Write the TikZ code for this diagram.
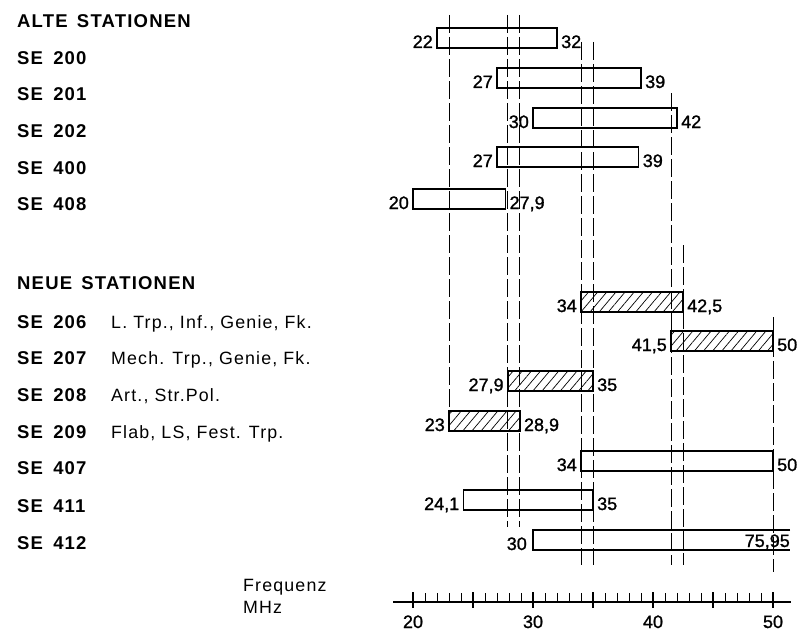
\documentclass[tikz,border=0pt]{standalone}
\usepackage{fontspec}
\setmainfont{Liberation Sans}
\newfontfamily\trackedfont{Liberation Sans}[LetterSpace=6.5]
\newfontfamily\numfont{Liberation Sans}[FakeBold=1.2]
\usetikzlibrary{patterns.meta}
\tikzset{
  barbox/.style={draw, line width=1.5pt},
  hatchbox/.style={barbox, pattern={Lines[angle=50,distance=7pt,line width=0.7pt]}},
  vline/.style={line width=0.7pt, dash pattern=on 18pt off 4pt},
  num/.style={font=\numfont\fontsize{18}{18}\selectfont, inner sep=0pt},
  stn/.style={font=\trackedfont\fontsize{18.5}{18}\selectfont\bfseries, inner sep=0pt, anchor=base west},
  desc/.style={font=\trackedfont\fontsize{17.8}{17}\selectfont, inner sep=0pt, anchor=base west},
  axisline/.style={line width=1.5pt},
  majortick/.style={line width=1.5pt},
  minortick/.style={line width=0.8pt},
}
\newcommand\fx[1]{413+12*(#1-20)}
% #1 name, #2 style, #3 f1, #4 f2, #5 y centre, #6 left text, #7 right text
\newcommand\fbar[7]{%
  \draw[#2] ({\fx{#3}},{#5-10}) rectangle ({\fx{#4}},{#5+10});
  \node[num, anchor=base east] (#1l) at ({\fx{#3}-4},{#5+10}) {#6};
  \node[num, anchor=base west] (#1r) at ({\fx{#4}+4},{#5+10}) {#7};
}
\begin{document}
\begin{tikzpicture}[x=1pt,y=-1pt]
\useasboundingbox (0,0) rectangle (800,634);

% dashed reference lines
\draw[vline] ({\fx{23}},15) -- ({\fx{23}},411);
\draw[vline] ({\fx{27.9}},15) -- ({\fx{27.9}},527);
\draw[vline] ({\fx{28.9}},15) -- ({\fx{28.9}},527);
\draw[vline] ({\fx{34}},42) -- ({\fx{34}},565);
\draw[vline] ({\fx{35}},42) -- ({\fx{35}},565);
\draw[vline] ({\fx{41.5}},93) -- ({\fx{41.5}},565);
\draw[vline] ({\fx{42.5}},245) -- ({\fx{42.5}},565);
\draw[vline] ({\fx{50}},317) -- ({\fx{50}},572);

% left labels
\node[stn] (alte) at (17,27.5) {ALTE\hspace{0.5em}STATIONEN};
\node[stn] (s200) at (17,64) {SE\hspace{0.55em}200};
\node[stn] (s201) at (17,100.5) {SE\hspace{0.55em}201};
\node[stn] (s202) at (17,137.5) {SE\hspace{0.55em}202};
\node[stn] (s400) at (17,174.5) {SE\hspace{0.55em}400};
\node[stn] (s408) at (17,210.5) {SE\hspace{0.55em}408};
\node[stn] (neue) at (17,289.5) {NEUE\hspace{0.5em}STATIONEN};
\node[stn] (s206) at (17,328.5) {SE\hspace{0.55em}206};
\node[stn] (s207) at (17,364.5) {SE\hspace{0.55em}207};
\node[stn] (s208) at (17,401.5) {SE\hspace{0.55em}208};
\node[stn] (s209) at (17,438.5) {SE\hspace{0.55em}209};
\node[stn] (s407) at (17,474.5) {SE\hspace{0.55em}407};
\node[stn] (s411) at (17,512.5) {SE\hspace{0.55em}411};
\node[stn] (s412) at (17,549.5) {SE\hspace{0.55em}412};
\node[desc] (d206) at (111,328.5) {L. Trp., Inf., Genie, Fk.};
\node[desc] (d207) at (111,364.5) {Mech. Trp., Genie, Fk.};
\node[desc] (d208) at (111,401.5) {Art., Str.Pol.};
\node[desc] (d209) at (111,438.5) {Flab, LS, Fest. Trp.};

% bars
\fbar{b200}{barbox}{22}{32}{38}{22}{32}
\fbar{b201}{barbox}{27}{39}{78}{27}{39}
\fbar{b202}{barbox}{30}{42}{118}{30}{42}
\fbar{b400}{barbox}{27}{38.8}{157}{27}{39}
\fbar{b408}{barbox}{20}{27.7}{199}{20}{27,9}
\fbar{b206}{hatchbox}{34}{42.5}{302}{34}{42,5}
\fbar{b207}{hatchbox}{41.5}{50}{341}{41,5}{50}
\fbar{b208}{hatchbox}{27.9}{35}{381}{27,9}{35}
\fbar{b209}{hatchbox}{23}{28.9}{421}{23}{28,9}
\fbar{b407}{barbox}{34}{50}{461}{34}{50}
\fbar{b411}{barbox}{24.2}{35}{500}{24,1}{35}
% SE 412 (open to the right)
\draw[barbox] (790,530) -- ({\fx{30}},530) -- ({\fx{30}},550) -- (790,550);
\node[num, anchor=base east] (b412l) at ({\fx{30}-6},550) {30};
\node[num, anchor=base east] (b412r) at (790,547) {75,95};

% axis
\draw[axisline] (393,602) -- (791,602);
\foreach \f in {21,...,49} {
  \draw[minortick] ({\fx{\f}},593) -- ({\fx{\f}},602);
}
\foreach \f in {20,25,...,50} {
  \draw[majortick] ({\fx{\f}},592) -- ({\fx{\f}},608);
}
\foreach \f in {20,30,40,50} {
  \node[num, anchor=base] (ax\f) at ({\fx{\f}},628) {\f};
}
\node[desc] (freq) at (243,591.5) {Frequenz};
\node[desc] (mhz) at (243,613) {MHz};
\end{tikzpicture}
\end{document}
